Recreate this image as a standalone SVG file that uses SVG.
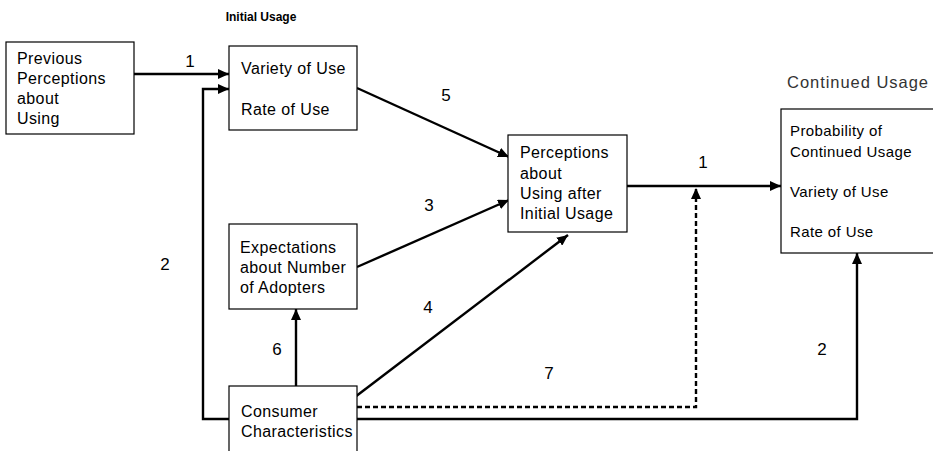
<svg xmlns="http://www.w3.org/2000/svg" width="933" height="451" viewBox="0 0 933 451">
  <style>
    .box { fill: #ffffff; stroke: #000000; stroke-width: 1.2; }
    .t { font-family: "Liberation Sans", Arial, sans-serif; font-size: 16px; fill: #000000; letter-spacing: 0.4px; }
    .t15 { font-family: "Liberation Sans", Arial, sans-serif; font-size: 15px; fill: #000000; letter-spacing: 0.4px; }
    .num { font-family: "Liberation Sans", Arial, sans-serif; font-size: 17px; fill: #000000; text-anchor: middle; }
    .head { font-family: "Liberation Sans", Arial, sans-serif; font-size: 12px; font-weight: bold; fill: #000000; text-anchor: middle; }
    .head2 { font-family: "Liberation Sans", Arial, sans-serif; font-size: 16.5px; fill: #333333; }
    .edge { fill: none; stroke: #000000; stroke-width: 2.4; }
    .dash { fill: none; stroke: #000000; stroke-width: 2.4; stroke-dasharray: 5 3; }
  </style>
  <defs>
    <marker id="arrow" markerUnits="userSpaceOnUse" markerWidth="12" markerHeight="10" refX="11" refY="5" orient="auto">
      <path d="M0,0 L11,5 L0,10 z" fill="#000000"/>
    </marker>
  </defs>
  <rect width="933" height="451" fill="#ffffff"/>

  <!-- connectors -->
  <g id="connectors">
    <line class="edge" x1="134" y1="74" x2="229" y2="74" marker-end="url(#arrow)"/>
    <path class="edge" d="M229,419 H203 V89 H229" marker-end="url(#arrow)"/>
    <line class="edge" x1="357" y1="88" x2="509" y2="157" marker-end="url(#arrow)"/>
    <line class="edge" x1="357" y1="267" x2="509" y2="200" marker-end="url(#arrow)"/>
    <line class="edge" x1="355" y1="397" x2="568" y2="235" marker-end="url(#arrow)"/>
    <line class="edge" x1="296" y1="386" x2="296" y2="309" marker-end="url(#arrow)"/>
    <line class="edge" x1="627" y1="186" x2="781" y2="186" marker-end="url(#arrow)"/>
    <path class="dash" d="M357,407 H696 V188" marker-end="url(#arrow)"/>
    <path class="edge" d="M357,419 H857 V253" marker-end="url(#arrow)"/>

    <text class="num" x="190" y="67">1</text>
    <text class="num" x="446" y="101">5</text>
    <text class="num" x="429" y="211">3</text>
    <text class="num" x="165" y="270">2</text>
    <text class="num" x="428" y="313">4</text>
    <text class="num" x="277" y="355">6</text>
    <text class="num" x="549" y="379">7</text>
    <text class="num" x="703" y="168">1</text>
    <text class="num" x="822" y="355">2</text>
  </g>

  <g id="previous-perceptions">
    <rect class="box" x="6" y="42" width="128" height="92"/>
    <text class="t" x="17" y="64">Previous</text>
    <text class="t" x="17" y="84">Perceptions</text>
    <text class="t" x="17" y="104">about</text>
    <text class="t" x="17" y="124">Using</text>
  </g>

  <g id="initial-usage">
    <text class="head" x="261" y="21">Initial Usage</text>
    <rect class="box" x="229" y="46" width="128" height="84"/>
    <text class="t" x="241" y="74">Variety of Use</text>
    <text class="t" x="241" y="115">Rate of Use</text>
  </g>

  <g id="perceptions-after">
    <rect class="box" x="508" y="135" width="119" height="97"/>
    <text class="t" x="520" y="158">Perceptions</text>
    <text class="t" x="520" y="179">about</text>
    <text class="t" x="520" y="199">Using after</text>
    <text class="t" x="520" y="219">Initial Usage</text>
  </g>

  <g id="expectations">
    <rect class="box" x="229" y="224" width="128" height="85"/>
    <text class="t" x="240" y="253">Expectations</text>
    <text class="t" x="240" y="273">about Number</text>
    <text class="t" x="240" y="293">of Adopters</text>
  </g>

  <g id="consumer-characteristics">
    <rect class="box" x="229" y="386" width="128" height="80"/>
    <text class="t" x="241" y="417">Consumer</text>
    <text class="t" x="241" y="437">Characteristics</text>
  </g>

  <g id="continued-usage">
    <text class="head2" x="787" y="88" textLength="141" lengthAdjust="spacing">Continued Usage</text>
    <rect class="box" x="781" y="109" width="170" height="144"/>
    <text class="t15" x="790" y="136">Probability of</text>
    <text class="t15" x="790" y="157">Continued Usage</text>
    <text class="t15" x="790" y="197">Variety of Use</text>
    <text class="t15" x="790" y="237">Rate of Use</text>
  </g>
</svg>
